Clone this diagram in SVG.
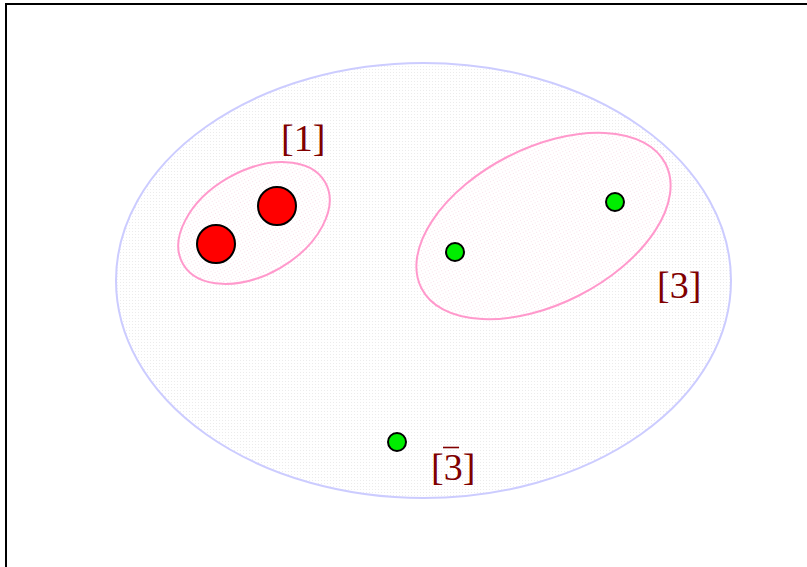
<svg xmlns="http://www.w3.org/2000/svg" width="807" height="567" viewBox="0 0 807 567">
  <defs>
    <pattern id="dotsGray" width="3" height="3" patternUnits="userSpaceOnUse">
      <rect width="3" height="3" fill="#ffffff"/>
      <rect width="1" height="1" fill="#ececec"/>
    </pattern>
    <pattern id="dotsPink" width="3" height="3" patternUnits="userSpaceOnUse">
      <rect width="3" height="3" fill="#ffffff"/>
      <rect width="1" height="1" fill="#f9e0ea"/>
    </pattern>
  </defs>
  <style>
    .lbl { font-family: "Liberation Serif", "Times New Roman", serif; font-size: 38px; fill: #800000; }
    .set { fill: url(#dotsPink); stroke: #ff99cc; stroke-width: 2; }
    .big { fill: url(#dotsGray); stroke: #ccccff; stroke-width: 2; }
    .red { fill: #ff0000; stroke: #000000; stroke-width: 2; }
    .green { fill: #00ee00; stroke: #000000; stroke-width: 2; }
  </style>
  <rect x="0" y="0" width="807" height="567" fill="#ffffff"/>
  <rect x="6" y="4" width="900" height="700" fill="none" stroke="#000000" stroke-width="2"/>
  <g id="universe">
    <ellipse class="big" cx="423.5" cy="280.5" rx="307.5" ry="217.5"/>
  </g>
  <g id="set1">
    <ellipse class="set" cx="254" cy="223" rx="82" ry="52" transform="rotate(-30 254 223)"/>
    <text class="lbl" x="281" y="151">[1]</text>
  </g>
  <g id="set3">
    <ellipse class="set" cx="543.5" cy="226" rx="137" ry="78" transform="rotate(-27 543.5 226)"/>
    <text class="lbl" x="657" y="298">[3]</text>
  </g>
  <g id="red1"><circle class="red" cx="216" cy="244" r="19"/></g>
  <g id="red2"><circle class="red" cx="277" cy="206" r="19"/></g>
  <g id="green1"><circle class="green" cx="455" cy="252" r="9"/></g>
  <g id="green2"><circle class="green" cx="615" cy="202" r="9"/></g>
  <g id="green3"><circle class="green" cx="397" cy="442" r="9"/></g>
  <g id="set3bar">
    <text class="lbl" x="431" y="480">[3]</text>
    <line x1="443" y1="447.5" x2="459" y2="447.5" stroke="#800000" stroke-width="1.6"/>
  </g>
  <g id="connectors"></g>
</svg>
